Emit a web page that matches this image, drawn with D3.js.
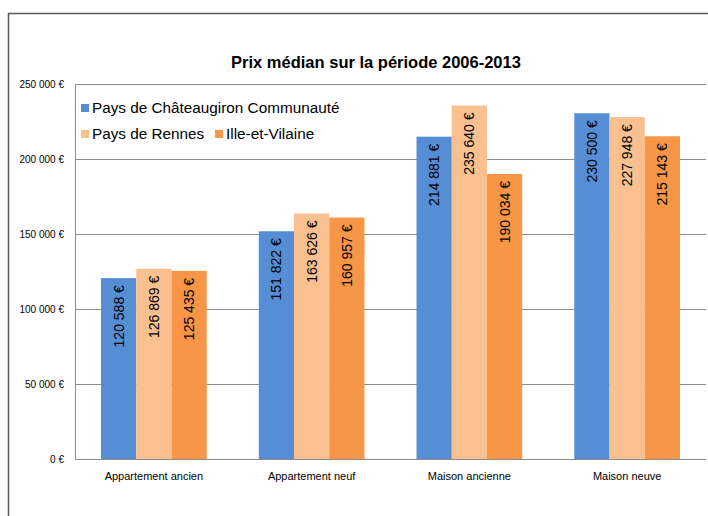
<!DOCTYPE html>
<html>
<head>
<meta charset="UTF-8">
<script src="https://cdn.jsdelivr.net/npm/d3@7"></script>
<style>
  html, body { margin: 0; padding: 0; background: #fff; }
  svg { display: block; font-family: "Liberation Sans", Arial, sans-serif; }
</style>
</head>
<body>
<div id="chart"></div>
<script>
// data
var categories = ["Appartement ancien", "Appartement neuf", "Maison ancienne", "Maison neuve"];
var seriesNames = ["Pays de Châteaugiron Communauté", "Pays de Rennes", "Ille-et-Vilaine"];
var chateaugiron = [120588, 151822, 214881, 230500];
var rennes = [126869, 163626, 235640, 227948];
var ileVilaine = [125435, 160957, 190034, 215143];
var yTicks = [0, 50000, 100000, 150000, 200000, 250000];
var colors = ["#558ed5", "#fac090", "#f79646"];

var W = 708, H = 516;
var margin = {top: 84, right: 2, bottom: 57, left: 75};

var svg = d3.select("#chart").append("svg").attr("width", W).attr("height", H);

// outer frame (cut by the window on the right and bottom)
svg.append("rect")
  .attr("x", 8.5).attr("y", 13.5)
  .attr("width", W + 20).attr("height", H + 20)
  .attr("fill", "none").attr("stroke", "#595959").attr("stroke-width", 1.5);

var fmt = function(v) {
  return d3.format(",")(v).replace(/,/g, " ") + " €";
};

var x0 = d3.scaleBand().domain(categories).range([margin.left, W - margin.right]).padding(0);
var x1 = d3.scaleBand().domain(d3.range(3))
  .range([x0.bandwidth() * 0.165, x0.bandwidth() * 0.835]).padding(0);
var y = d3.scaleLinear().domain([0, 250000]).range([H - margin.bottom, margin.top]);

// gridlines
svg.append("g").selectAll("line").data(yTicks).join("line")
  .attr("x1", margin.left).attr("x2", W - margin.right)
  .attr("y1", function(d) { return Math.round(y(d)) + 0.5; })
  .attr("y2", function(d) { return Math.round(y(d)) + 0.5; })
  .attr("stroke", "#8c8c8c").attr("stroke-width", 1);

// left axis line
svg.append("line")
  .attr("x1", margin.left + 0.5).attr("x2", margin.left + 0.5)
  .attr("y1", y(250000)).attr("y2", y(0))
  .attr("stroke", "#8c8c8c");

// y tick labels
svg.append("g").selectAll("text").data(yTicks).join("text")
  .attr("x", margin.left - 11)
  .attr("y", function(d) { return y(d); })
  .attr("dy", "0.35em")
  .attr("text-anchor", "end")
  .attr("font-size", 10)
  .attr("fill", "#000")
  .text(fmt);

// category labels
svg.append("g").selectAll("text").data(categories).join("text")
  .attr("x", function(d) { return x0(d) + x0.bandwidth() / 2; })
  .attr("y", y(0) + 21)
  .attr("text-anchor", "middle")
  .attr("font-size", 11)
  .attr("fill", "#000")
  .text(function(d) { return d; });

var allSeries = [chateaugiron, rennes, ileVilaine];
var rows = [];
categories.forEach(function(c, i) {
  allSeries.forEach(function(s, j) {
    rows.push({cat: c, s: j, v: s[i]});
  });
});

var bars = svg.append("g");
bars.selectAll("rect").data(rows).join("rect")
  .attr("x", function(d) { return x0(d.cat) + x1(d.s); })
  .attr("y", function(d) { return y(d.v); })
  .attr("width", x1.bandwidth())
  .attr("height", function(d) { return y(0) - y(d.v); })
  .attr("fill", function(d) { return colors[d.s]; });

// value labels, rotated inside bar top
bars.selectAll("text").data(rows).join("text")
  .attr("transform", function(d) {
    var cx = x0(d.cat) + x1(d.s) + x1.bandwidth() / 2;
    return "translate(" + cx + "," + (y(d.v) + 7) + ") rotate(-90)";
  })
  .attr("text-anchor", "end")
  .attr("dy", "0.35em")
  .attr("font-size", 14)
  .attr("fill", "#000")
  .text(function(d) { return fmt(d.v); });

// title
svg.append("text")
  .attr("x", 376).attr("y", 68)
  .attr("text-anchor", "middle")
  .attr("font-size", 16.5).attr("font-weight", "bold")
  .text("Prix médian sur la période 2006-2013");

// legend
var legendPos = [[81, 108], [81, 134], [215, 134]];
var lg = svg.append("g").selectAll("g").data(seriesNames).join("g")
  .attr("transform", function(d, i) { return "translate(" + legendPos[i][0] + "," + legendPos[i][1] + ")"; });
lg.append("rect")
  .attr("x", 0).attr("y", -4).attr("width", 8).attr("height", 8)
  .attr("fill", function(d, i) { return colors[i]; });
lg.append("text")
  .attr("x", 11).attr("dy", "0.35em")
  .attr("font-size", 15.3)
  .attr("fill", "#000")
  .text(function(d) { return d; });
</script>
</body>
</html>
